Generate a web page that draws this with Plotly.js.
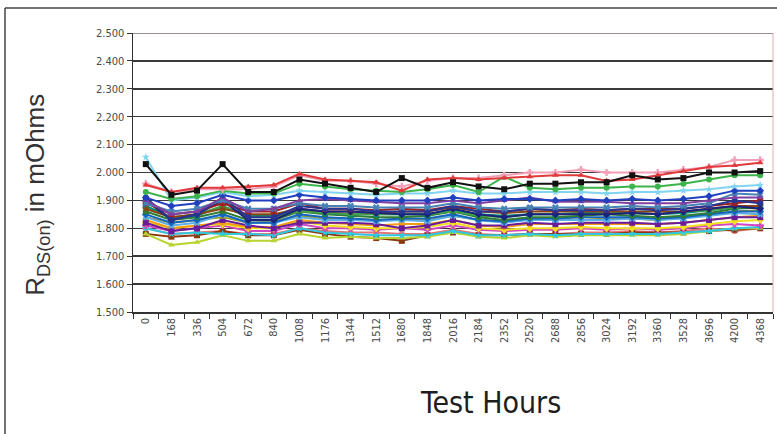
<!DOCTYPE html>
<html>
<head>
<meta charset="utf-8">
<script src="https://cdn.plot.ly/plotly-3.0.1.min.js"></script>
<style>
  html, body { margin: 0; padding: 0; background: #fff; }
  #chart { width: 777px; height: 434px; }
</style>
</head>
<body>
<div id="chart"></div>
<script>
const hours = ["0","168","336","504","672","840","1008","1176","1344","1512","1680","1848","2016","2184","2352","2520","2688","2856","3024","3192","3360","3528","3696","4200","4368"];
const yTickVals = [1.5,1.6,1.7,1.8,1.9,2.0,2.1,2.2,2.3,2.4,2.5];

const s01 = [2.030,1.920,1.935,2.030,1.930,1.930,1.975,1.960,1.945,1.930,1.980,1.945,1.965,1.950,1.940,1.960,1.960,1.965,1.965,1.990,1.975,1.980,2.000,2.000,2.005];
const s02 = [1.955,1.930,1.945,1.945,1.950,1.955,1.995,1.975,1.970,1.965,1.935,1.975,1.980,1.975,1.980,1.985,1.990,1.990,1.970,1.975,1.990,2.005,2.020,2.025,2.035];
const s03 = [1.960,1.930,1.940,1.940,1.940,1.950,1.990,1.970,1.970,1.960,1.950,1.970,1.980,1.980,1.990,2.000,2.000,2.010,2.000,2.000,2.000,2.010,2.020,2.045,2.045];
const s04 = [1.930,1.905,1.915,1.935,1.925,1.925,1.960,1.950,1.940,1.935,1.930,1.940,1.955,1.930,1.985,1.945,1.940,1.945,1.945,1.950,1.950,1.960,1.975,1.990,1.990];
const s05 = [2.055,1.900,1.910,1.930,1.915,1.920,1.935,1.930,1.925,1.920,1.925,1.925,1.935,1.925,1.925,1.930,1.930,1.930,1.925,1.930,1.930,1.935,1.940,1.950,1.955];
const s06 = [1.910,1.880,1.890,1.920,1.900,1.900,1.920,1.910,1.905,1.900,1.900,1.900,1.910,1.900,1.905,1.905,1.900,1.905,1.900,1.905,1.900,1.905,1.915,1.935,1.935];
const s07 = [1.900,1.850,1.860,1.910,1.860,1.870,1.900,1.905,1.900,1.895,1.890,1.890,1.900,1.890,1.900,1.910,1.895,1.895,1.895,1.890,1.890,1.890,1.900,1.910,1.910];
const s08 = [1.900,1.830,1.850,1.900,1.830,1.830,1.870,1.860,1.860,1.855,1.850,1.850,1.870,1.850,1.840,1.850,1.850,1.850,1.850,1.855,1.850,1.860,1.870,1.880,1.870];
const s09 = [1.890,1.850,1.860,1.890,1.860,1.860,1.890,1.870,1.870,1.865,1.870,1.865,1.880,1.870,1.860,1.870,1.865,1.870,1.865,1.870,1.870,1.870,1.880,1.890,1.900];
const s10 = [1.880,1.840,1.845,1.880,1.845,1.845,1.865,1.855,1.850,1.850,1.850,1.850,1.865,1.850,1.845,1.850,1.850,1.855,1.855,1.855,1.850,1.855,1.865,1.875,1.880];
const s11 = [1.870,1.840,1.850,1.870,1.850,1.850,1.870,1.860,1.860,1.855,1.860,1.860,1.875,1.860,1.855,1.860,1.860,1.860,1.860,1.860,1.860,1.860,1.870,1.880,1.880];
const s12 = [1.860,1.830,1.840,1.860,1.830,1.830,1.860,1.850,1.845,1.840,1.840,1.845,1.860,1.840,1.830,1.840,1.840,1.845,1.850,1.845,1.840,1.845,1.855,1.870,1.875];
const s13 = [1.850,1.820,1.830,1.850,1.820,1.820,1.850,1.840,1.835,1.830,1.835,1.835,1.850,1.830,1.825,1.835,1.835,1.840,1.840,1.840,1.835,1.840,1.850,1.860,1.860];
const s14 = [1.830,1.800,1.810,1.820,1.805,1.805,1.830,1.820,1.815,1.810,1.815,1.815,1.830,1.810,1.805,1.815,1.815,1.815,1.815,1.815,1.815,1.820,1.830,1.840,1.845];
const s15 = [1.820,1.800,1.810,1.815,1.800,1.800,1.825,1.810,1.805,1.800,1.800,1.805,1.820,1.800,1.795,1.800,1.800,1.805,1.800,1.800,1.800,1.805,1.815,1.825,1.830];
const s16 = [1.810,1.790,1.800,1.810,1.790,1.790,1.815,1.800,1.800,1.795,1.800,1.795,1.810,1.795,1.790,1.795,1.795,1.800,1.795,1.800,1.795,1.800,1.810,1.815,1.810];
const s17 = [1.820,1.790,1.800,1.830,1.810,1.800,1.820,1.820,1.820,1.815,1.800,1.810,1.830,1.810,1.810,1.820,1.815,1.820,1.820,1.820,1.815,1.820,1.830,1.840,1.840];
const s18 = [1.800,1.780,1.785,1.780,1.780,1.775,1.800,1.785,1.780,1.775,1.775,1.775,1.790,1.775,1.775,1.780,1.775,1.780,1.780,1.780,1.780,1.785,1.790,1.800,1.805];
const s19 = [1.780,1.740,1.750,1.775,1.755,1.755,1.780,1.765,1.770,1.765,1.765,1.770,1.785,1.770,1.765,1.775,1.770,1.775,1.775,1.775,1.775,1.780,1.790,1.800,1.800];
const s20 = [1.780,1.770,1.775,1.790,1.775,1.775,1.795,1.780,1.770,1.765,1.755,1.775,1.785,1.775,1.775,1.780,1.780,1.780,1.780,1.785,1.785,1.785,1.790,1.795,1.800];
const s21 = [1.840,1.810,1.820,1.850,1.820,1.820,1.840,1.830,1.830,1.825,1.830,1.825,1.845,1.830,1.820,1.830,1.830,1.830,1.830,1.835,1.830,1.835,1.845,1.855,1.850];
const s22 = [1.840,1.820,1.830,1.840,1.820,1.825,1.845,1.835,1.835,1.830,1.830,1.830,1.845,1.830,1.825,1.835,1.835,1.830,1.835,1.835,1.830,1.840,1.850,1.860,1.865];
const s23 = [1.870,1.840,1.850,1.880,1.840,1.840,1.860,1.855,1.850,1.850,1.850,1.850,1.860,1.845,1.840,1.850,1.850,1.850,1.855,1.855,1.850,1.860,1.865,1.875,1.880];
const s24 = [1.910,1.830,1.850,1.910,1.840,1.840,1.880,1.870,1.870,1.860,1.860,1.860,1.880,1.860,1.860,1.870,1.865,1.865,1.865,1.870,1.865,1.870,1.880,1.900,1.890];
const s25 = [1.890,1.860,1.870,1.900,1.870,1.870,1.890,1.880,1.880,1.875,1.875,1.875,1.890,1.875,1.870,1.875,1.875,1.875,1.875,1.880,1.875,1.880,1.890,1.925,1.920];
const s26 = [1.800,1.780,1.785,1.790,1.780,1.780,1.800,1.790,1.785,1.785,1.780,1.780,1.795,1.780,1.775,1.780,1.780,1.785,1.785,1.790,1.785,1.790,1.800,1.790,1.800];

const seriesList = [s26,s20,s19,s18,s16,s15,s14,s17,s22,s21,s13,s12,s10,s23,s11,s08,s09,s24,s25,s07,s06,s05,s04,s03,s02,s01];
const colors = ["#e57373","#8b3a10","#b8d430","#30c8e0","#d048c0","#f0e020","#f39c12","#6a1b9a","#9e9d24","#5dade2","#1565c0","#2e7d32","#00897b","#43a047","#8b4513","#1a237e","#a02020","#283593","#4682b4","#8040a0","#2040c0","#80d4f0","#3cb44b","#f2a0b8","#e03a3a","#111111"];
const symbols = ["circle","square","triangle-up","star","cross","diamond","circle","square","triangle-up","x","diamond","circle","square","triangle-up","star","diamond","square","circle","x","triangle-up","diamond","star","circle","cross","triangle-up","square"];

const traces = seriesList.map((vals, i) => ({
  type: "scatter",
  mode: "lines+markers",
  x: hours,
  y: vals,
  line: { color: colors[i], width: 2 },
  marker: { color: colors[i], size: 6, symbol: symbols[i] },
  showlegend: false,
  hoverinfo: "skip"
}));

const tickFont = { family: "DejaVu Sans Condensed, Liberation Sans Narrow, sans-serif", size: 11, color: "#4a4a4a" };

const layout = {
  width: 777,
  height: 434,
  margin: { l: 133, r: 4, t: 33, b: 122 },
  paper_bgcolor: "#ffffff",
  plot_bgcolor: "#ffffff",
  showlegend: false,
  xaxis: {
    type: "category",
    range: [-0.5, 24.5],
    showgrid: false,
    showline: true,
    linecolor: "#333",
    linewidth: 1.5,
    ticks: "outside",
    tickson: "boundaries",
    ticklen: 5,
    tickcolor: "#333",
    tickwidth: 1,
    tickangle: -90,
    tickfont: tickFont,
    zeroline: false
  },
  yaxis: {
    range: [1.5, 2.5],
    tickvals: yTickVals,
    tickformat: ".3f",
    showgrid: true,
    gridcolor: "#3a3a3a",
    gridwidth: 1.5,
    showline: true,
    linecolor: "#333",
    linewidth: 1.5,
    ticks: "outside",
    ticklen: 5,
    tickcolor: "#333",
    tickfont: tickFont,
    zeroline: false
  },
  annotations: [
    {
      xref: "paper", yref: "paper",
      x: -0.15, y: 0.42,
      text: "R<sub>DS(on)</sub> in mOhms",
      textangle: -90,
      showarrow: false,
      font: { family: "Liberation Sans, Arial, sans-serif", size: 26, color: "#333" },
      xanchor: "center", yanchor: "middle"
    },
    {
      xref: "paper", yref: "paper",
      x: 0.559, y: -0.323,
      text: "Test Hours",
      showarrow: false,
      font: { family: "DejaVu Sans Condensed, Liberation Sans Narrow, sans-serif", size: 30, color: "#1e1e1e" },
      xanchor: "center", yanchor: "middle"
    }
  ],
  shapes: [
    { type: "line", xref: "paper", yref: "y", x0: 0, x1: 1, y0: 2.5, y1: 2.5, layer: "below", line: { color: "#9a8f8f", width: 1.8 } },
    { type: "line", xref: "paper", yref: "y", x0: 0, x1: 1, y0: 2.4, y1: 2.4, layer: "below", line: { color: "#7a7070", width: 1.8 } },
    { type: "line", xref: "paper", yref: "paper", x0: 1, x1: 1, y0: 0, y1: 1, line: { color: "#d9b0b0", width: 1 } },
    { type: "line", xref: "paper", yref: "paper", x0: -0.2, x1: 1.01, y0: 1.0896, y1: 1.0896, line: { color: "#444", width: 1.5 } },
    { type: "line", xref: "paper", yref: "paper", x0: -0.2, x1: -0.2, y0: 1.0896, y1: -0.45, line: { color: "#444", width: 1.5 } }
  ]
};

Plotly.newPlot("chart", traces, layout, { displayModeBar: false, staticPlot: true });
</script>
</body>
</html>
